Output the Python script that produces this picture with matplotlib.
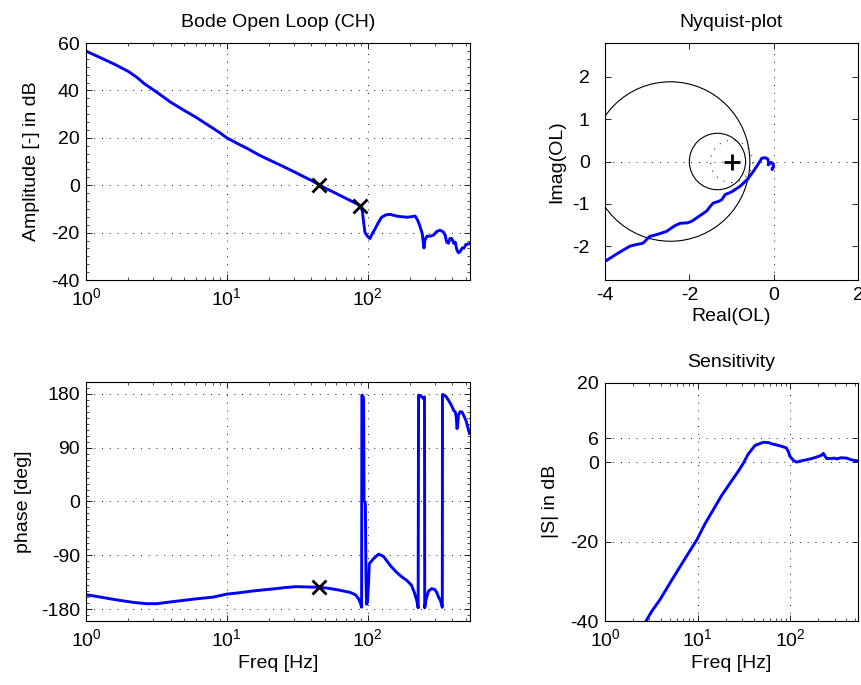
import numpy as np
import matplotlib
matplotlib.use('Agg')
import matplotlib.pyplot as plt
from matplotlib.patches import Circle
from matplotlib.ticker import AutoMinorLocator, LogLocator, NullFormatter, NullLocator

plt.rcParams['font.family'] = ['Liberation Sans', 'DejaVu Sans']
plt.rcParams['mathtext.fontset'] = 'custom'
plt.rcParams['mathtext.rm'] = 'Liberation Sans'
plt.rcParams['mathtext.it'] = 'Liberation Sans:italic'
plt.rcParams['mathtext.bf'] = 'Liberation Sans:bold'
plt.rcParams['axes.unicode_minus'] = False

# ---------------- data ----------------
mag_freq = [1.0, 1.3, 1.6, 2.0, 2.3, 2.6, 3.0, 3.5, 4.0, 5.0, 6.0, 7.0, 8.0, 9.0, 10, 12, 14, 17, 20, 25,
            30, 35, 40, 45, 50, 55, 60, 70, 80, 89, 92, 94, 96, 100, 104, 108, 113, 120, 126, 135,
            145, 160, 175, 190, 205, 218, 226, 235, 245, 252, 256, 265, 280, 295, 310, 328, 345, 356,
            365, 376, 385, 397, 410, 420, 430, 443, 455, 470, 485, 500, 520, 535]
mag_db = [56.6, 53.5, 51.0, 48.0, 45.5, 42.8, 40.3, 37.5, 35.0, 31.5, 28.8, 26.2, 24.0, 22.0, 20.0, 17.5,
          15.5, 12.7, 10.7, 8.0, 5.7, 3.7, 2.0, 0.3, -1.2, -2.4, -3.5, -5.5, -7.2, -8.6, -11.0, -16.0,
          -20.0, -21.5, -22.5, -20.5, -18.5, -15.5, -13.5, -12.5, -12.3, -13.0, -13.3, -13.5, -13.3,
          -13.0, -14.5, -17.0, -20.5, -26.5, -23.0, -21.5, -21.5, -21.0, -19.5, -19.0, -19.7, -21.0,
          -24.0, -24.5, -22.5, -22.5, -24.5, -24.0, -27.0, -28.5, -28.0, -26.5, -26.5, -25.0, -24.8, -24.5]

ph_freq = [1.0, 1.2, 1.5, 1.8, 2.2, 2.7, 3.2, 4.0, 4.7, 6.0, 8.0, 10, 12, 15, 18, 22, 26, 31, 37, 45,
           52, 62, 75, 82, 86, 89, 90.8, 91.2, 93, 93.8, 94.5, 96.5, 97.5, 98.5, 100, 101.5, 103, 110,
           120, 130, 145, 160, 175, 190, 205, 215, 224, 229, 230.5, 240, 250, 254, 255, 260, 271, 285,
           300, 310, 320, 330, 340, 341, 350, 360, 375, 390, 400, 410, 420, 428, 432, 436, 443, 455,
           468, 480, 500, 515, 530]
ph_deg = [-156, -159, -163, -166, -169, -171, -171, -168, -166, -163, -160, -155, -153, -150, -148,
          -146, -144, -142.5, -143, -143.5, -145, -148, -152, -156, -162, -170, -177, 178, 176, 170,
          2, -3, -125, -172, -168, -140, -104, -96, -88, -92, -107, -118, -126, -132, -140, -152,
          -166, -178, 178, 176, 172, 175, -178, -165, -150, -146, -147, -152, -160, -166, -177, 179,
          178, 176, 170, 163, 158, 152, 150, 140, 122, 125, 145, 150, 150, 145, 136, 125, 114]

cross_freq = [45, 89]
cross_db = [0.3, -8.6]
pm_freq = [45]
pm_deg = [-143.5]

nyq_re = [-4.0, -3.7, -3.41, -3.25, -3.1, -2.94, -2.75, -2.54, -2.35, -2.22, -2.05, -1.94, -1.75, -1.59,
          -1.48, -1.43, -1.3, -1.23, -1.15, -1.0, -0.79, -0.62, -0.48, -0.36, -0.28, -0.2, -0.14, -0.12,
          -0.13, -0.06, -0.02, 0.0, -0.04, -0.02]
nyq_im = [-2.36, -2.17, -2.0, -1.96, -1.93, -1.77, -1.72, -1.65, -1.52, -1.46, -1.45, -1.41, -1.28, -1.17,
          -1.03, -0.98, -0.94, -0.9, -0.78, -0.72, -0.58, -0.42, -0.23, -0.05, 0.08, 0.09, 0.06, -0.03,
          -0.08, -0.02, -0.05, -0.11, -0.19, -0.15]
m_circles = [1.3, 2.0]          # |T| contours
s_circle_center = (-1.0, 0.0)   # |S| = 6 dB contour
s_circle_radius = 0.5
crit_point = [-1.0], [0.0]

sens_freq = [2.6, 2.77, 3.2, 3.9, 5.0, 6.45, 8.0, 9.75, 12, 14.7, 18, 22.3, 27, 31, 35, 41.5, 51, 58, 63,
             77, 90, 95, 99, 108, 116, 130, 150, 170, 193, 215, 226, 236, 246, 270, 300, 316, 350, 405,
             450, 500, 535]
sens_db = [-41.5, -40.0, -37.5, -34.7, -30.5, -26.3, -22.8, -19.6, -15.5, -12.0, -8.5, -5.3, -2.5, -0.3,
           2.0, 4.2, 5.0, 4.9, 4.6, 4.1, 3.6, 2.6, 1.4, 0.4, 0.0, 0.3, 0.6, 0.9, 1.3, 1.7, 2.2, 1.5, 0.9,
           0.9, 1.0, 0.8, 1.1, 1.0, 0.6, 0.4, 0.3]

mag_yticks = [-40, -20, 0, 20, 40, 60]
ph_yticks = [-180, -90, 0, 90, 180]
nyq_xticks = [-4, -2, 0, 2]
nyq_yticks = [-2, -1, 0, 1, 2]
sens_yticks = [-40, -20, 0, 6, 20]

# ---------------- styling ----------------
BLUE = (0, 0, 1)
LW = 2.1
FS = 14
GRID = dict(color='0.1', linestyle=(0, (1, 7)), linewidth=0.7)

fig = plt.figure(figsize=(8.61, 6.85), dpi=100)

def frame(ax, logx=False, yminor=None):
    for s in ax.spines.values():
        s.set_linewidth(0.8)
        s.set_color('black')
    ax.tick_params(which='both', direction='in', top=True, right=True, labelsize=FS, colors='black')
    ax.tick_params(which='major', length=4.5, width=0.6, pad=4.5)
    ax.tick_params(which='minor', length=2.3, width=0.5)
    ax.tick_params(axis='x', which='major', pad=5)
    if logx:
        ax.set_xscale('log')
        ax.xaxis.set_major_locator(LogLocator(base=10, numticks=10))
        ax.xaxis.set_minor_locator(LogLocator(base=10, subs=np.arange(2, 10), numticks=20))
        ax.xaxis.set_minor_formatter(NullFormatter())
    if yminor:
        ax.yaxis.set_minor_locator(AutoMinorLocator(yminor))
    else:
        ax.yaxis.set_minor_locator(NullLocator())

# Bode magnitude
ax1 = fig.add_axes([0.0999, 0.5912, 0.446, 0.346])
frame(ax1, logx=True, yminor=6)
ax1.plot(mag_freq, mag_db, color=BLUE, lw=LW)
ax1.plot(cross_freq, cross_db, 'x', color='black', ms=10, mew=2)
ax1.set_xlim(1, 535)
ax1.set_ylim(-40, 60)
ax1.set_yticks(mag_yticks)
ax1.grid(True, which='major', **GRID)
ax1.set_title('Bode Open Loop (CH)', fontsize=FS, pad=11.5)
ax1.set_ylabel('Amplitude [-] in dB', fontsize=FS, labelpad=8)

# Bode phase
ax2 = fig.add_axes([0.0999, 0.0934, 0.446, 0.349])
frame(ax2, logx=True, yminor=9)
ax2.plot(ph_freq, ph_deg, color=BLUE, lw=LW)
ax2.plot(pm_freq, pm_deg, 'x', color='black', ms=10, mew=2)
ax2.set_xlim(1, 535)
ax2.set_ylim(-200, 200)
ax2.set_yticks(ph_yticks)
ax2.grid(True, which='major', **GRID)
ax2.set_xlabel('Freq [Hz]', fontsize=FS, labelpad=4)
ax2.set_ylabel('phase [deg]', fontsize=FS, labelpad=6)

# Nyquist
ax3 = fig.add_axes([0.7027, 0.5912, 0.2938, 0.346])
frame(ax3)
ax3.axhline(0, **GRID)
ax3.axvline(0, **GRID)
for M in m_circles:
    c = -M**2 / (M**2 - 1)
    r = M / (M**2 - 1)
    ax3.add_patch(Circle((c, 0), r, fill=False, ec='black', lw=0.8))
ax3.add_patch(Circle(s_circle_center, s_circle_radius, fill=False, ec='black', lw=0.7,
                     linestyle=(0, (1, 7))))
ax3.plot(nyq_re, nyq_im, color=BLUE, lw=LW)
ax3.plot(*crit_point, '+', color='black', ms=12, mew=2)
ax3.set_xlim(-4, 2)
ax3.set_ylim(-2.8, 2.8)
ax3.set_xticks(nyq_xticks)
ax3.set_yticks(nyq_yticks)
ax3.tick_params(axis='y', pad=11)
ax3.set_title('Nyquist-plot', fontsize=FS, pad=11.5)
ax3.set_xlabel('Real(OL)', fontsize=FS, labelpad=3)
ax3.set_ylabel('Imag(OL)', fontsize=FS, labelpad=5)

# Sensitivity
ax4 = fig.add_axes([0.7027, 0.0934, 0.2938, 0.348])
frame(ax4, logx=True)
ax4.plot(sens_freq, sens_db, color=BLUE, lw=LW)
ax4.set_xlim(1, 535)
ax4.set_ylim(-40, 20)
ax4.set_yticks(sens_yticks)
ax4.grid(True, which='major', **GRID)
ax4.set_title('Sensitivity', fontsize=FS, pad=11.5)
ax4.set_xlabel('Freq [Hz]', fontsize=FS, labelpad=4)
ax4.set_ylabel('|S| in dB', fontsize=FS, labelpad=8)

fig.savefig('out.png', dpi=100)
